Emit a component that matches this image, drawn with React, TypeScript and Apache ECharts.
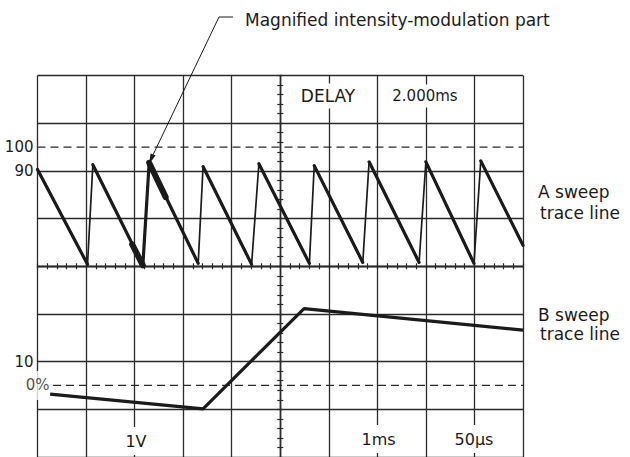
import React, { useEffect, useRef } from "react";
import * as echarts from "echarts";

// A sweep sawtooth: alternating peak / trough vertices, in graticule divisions
const aSweep: [number, number][] = [
  [-5.0, 2.03], [-3.97, 0.04],
  [-3.86, 2.13], [-2.83, 0.02],
  [-2.7, 2.17], [-1.69, 0.06],
  [-1.59, 2.09], [-0.59, 0.04],
  [-0.44, 2.15], [0.6, 0.06],
  [0.7, 2.11], [1.7, 0.08],
  [1.83, 2.19], [2.86, 0.08],
  [3.0, 2.19], [3.99, 0.06],
  [4.13, 2.21], [5.0, 0.44],
];
// intensified (magnified) parts of the A sweep
const aBright: [number, number][][] = [
  [[-3.05, 0.46], [-2.83, 0.02]],
  [[-2.7, 2.17], [-2.36, 1.45]],
];
const aBrightRise: [number, number][] = [[-2.83, 0.02], [-2.7, 2.17]];
// B sweep trace
const bSweep: [number, number][] = [[-4.74, -2.68], [-1.59, -2.99], [0.49, -0.89], [5.0, -1.34]];
// percent reference levels
const percentLabels = [100, 90, 10];
const line100: [number, number][] = [[-5, 100], [5, 100]];
const line0: [number, number][] = [[-4.68, 0], [5, 0]];

const INK = "#1b1b1b";
const GRID = "#2a2a2a";

export default function App() {
  const ref = useRef<HTMLDivElement>(null);
  useEffect(() => {
    if (!ref.current) return;
    const chart = echarts.init(ref.current, undefined, { renderer: "svg" });

    const ramps: { coords: [number, number][] }[] = [];
    for (let i = 0; i + 1 < aSweep.length; i += 2) {
      ramps.push({ coords: [aSweep[i], aSweep[i + 1]] });
    }
    ramps.push({ coords: aBrightRise });

    const divAxisX = (inside: boolean, split: boolean) => ({
      type: "value",
      min: -5,
      max: 5,
      interval: 1,
      position: "bottom",
      axisLine: { show: true, onZero: true, onZeroAxisIndex: 0, lineStyle: { color: GRID, width: 1.3 } },
      axisTick: { show: true, inside, length: 3, lineStyle: { color: GRID, width: 1.2 } },
      minorTick: { show: true, splitNumber: 5, length: 3, lineStyle: { color: GRID, width: 1.2 } },
      axisLabel: { show: false },
      splitLine: { show: split, lineStyle: { color: GRID, width: 1.3 } },
      minorSplitLine: { show: false },
    });
    const divAxisY = (inside: boolean, split: boolean) => ({
      type: "value",
      min: -4,
      max: 4,
      interval: 1,
      position: "left",
      axisLine: { show: true, onZero: true, onZeroAxisIndex: 0, lineStyle: { color: GRID, width: 1.3 } },
      axisTick: { show: true, inside, length: 3, lineStyle: { color: GRID, width: 1.2 } },
      minorTick: { show: true, splitNumber: 5, length: 3, lineStyle: { color: GRID, width: 1.2 } },
      axisLabel: { show: false },
      splitLine: { show: split, lineStyle: { color: GRID, width: 1.3 } },
      minorSplitLine: { show: false },
    });

    const txt = (text: string, x: number, y: number, size: number, align = "left", bg = false, pad: number[] = [0, 0]) => ({
      type: "text",
      z: 100,
      x,
      y,
      style: {
        text,
        font: `${size}px "DejaVu Sans"`,
        fill: INK,
        align,
        textAlign: align,
        verticalAlign: "middle",
        textVerticalAlign: "middle",
        backgroundColor: bg ? "#ffffff" : undefined,
        padding: pad,
      },
    });

    chart.setOption({
      animation: false,
      backgroundColor: "#ffffff",
      grid: { left: 37.5, top: 75.5, width: 485.5, height: 387, containLabel: false },
      xAxis: [divAxisX(false, true), divAxisX(true, false)],
      yAxis: [
        divAxisY(false, true),
        divAxisY(true, false),
        {
          type: "value",
          min: -30,
          max: 130,
          interval: 10,
          position: "left",
          axisLine: { show: false, onZero: false },
          axisTick: { show: false },
          splitLine: { show: false },
          axisLabel: {
            show: true,
            margin: 4,
            color: INK,
            fontSize: 15,
            fontFamily: "DejaVu Sans",
            formatter: (v: number) => (percentLabels.includes(v) ? String(v) : ""),
          },
        },
      ],
      series: [
        {
          type: "line",
          xAxisIndex: 0,
          yAxisIndex: 2,
          data: line100,
          symbol: "none",
          lineStyle: { color: GRID, width: 1.3, type: [8, 5] },
          silent: true,
        },
        {
          type: "line",
          xAxisIndex: 0,
          yAxisIndex: 2,
          data: line0,
          symbol: "none",
          lineStyle: { color: GRID, width: 1.3, type: [8, 5] },
          silent: true,
        },
        {
          type: "scatter",
          xAxisIndex: 0,
          yAxisIndex: 2,
          data: [line0[0]],
          symbolSize: 1,
          itemStyle: { color: "transparent" },
          label: {
            show: true,
            position: "left",
            distance: 2,
            formatter: "0%",
            color: INK,
            fontSize: 15,
            fontFamily: "DejaVu Sans",
            backgroundColor: "#ffffff",
            padding: [7, 1, 7, 1],
          },
          silent: true,
        },
        {
          type: "line",
          xAxisIndex: 0,
          yAxisIndex: 0,
          data: aSweep,
          symbol: "none",
          lineStyle: { color: INK, width: 1.7 },
          silent: true,
        },
        {
          type: "lines",
          coordinateSystem: "cartesian2d",
          xAxisIndex: 0,
          yAxisIndex: 0,
          data: ramps,
          lineStyle: { color: INK, width: 3.2, opacity: 1, cap: "round" },
          silent: true,
        },
        {
          type: "lines",
          coordinateSystem: "cartesian2d",
          xAxisIndex: 0,
          yAxisIndex: 0,
          data: aBright.map((c) => ({ coords: c })),
          lineStyle: { color: INK, width: 6, opacity: 1, cap: "round" },
          silent: true,
        },
        {
          type: "line",
          xAxisIndex: 0,
          yAxisIndex: 0,
          data: bSweep,
          symbol: "none",
          lineStyle: { color: INK, width: 3.2 },
          silent: true,
        },
      ],
      graphic: [
        txt("Magnified intensity-modulation part", 245, 20, 17),
        {
          type: "polyline",
          z: 100,
          shape: { points: [[233, 17], [219, 17], [151.5, 158]] },
          style: { stroke: INK, lineWidth: 1, fill: null },
        },
        {
          type: "polygon",
          z: 100,
          shape: { points: [[149, 164], [155.6, 155.6], [150.6, 153.4]] },
          style: { fill: INK },
        },
        txt("DELAY", 328, 96, 17, "center", true, [4, 2]),
        txt("2.000ms", 425, 96, 15, "center", true, [4, 2]),
        txt("A sweep", 538, 192, 17),
        txt("trace line", 540, 213, 17),
        txt("B sweep", 538, 315, 17),
        txt("trace line", 540, 334, 17),
        txt("1V", 136, 441, 16, "center", true, [6, 2]),
        txt("1ms", 378.5, 439, 16, "center", true, [6, 2]),
        txt("50\u03bcs", 474, 439, 16, "center", true, [6, 2]),
      ],
    });
    return () => chart.dispose();
  }, []);
  return <div ref={ref} style={{ position: "fixed", left: 0, top: 0, width: 630, height: 457 }} />;
}
